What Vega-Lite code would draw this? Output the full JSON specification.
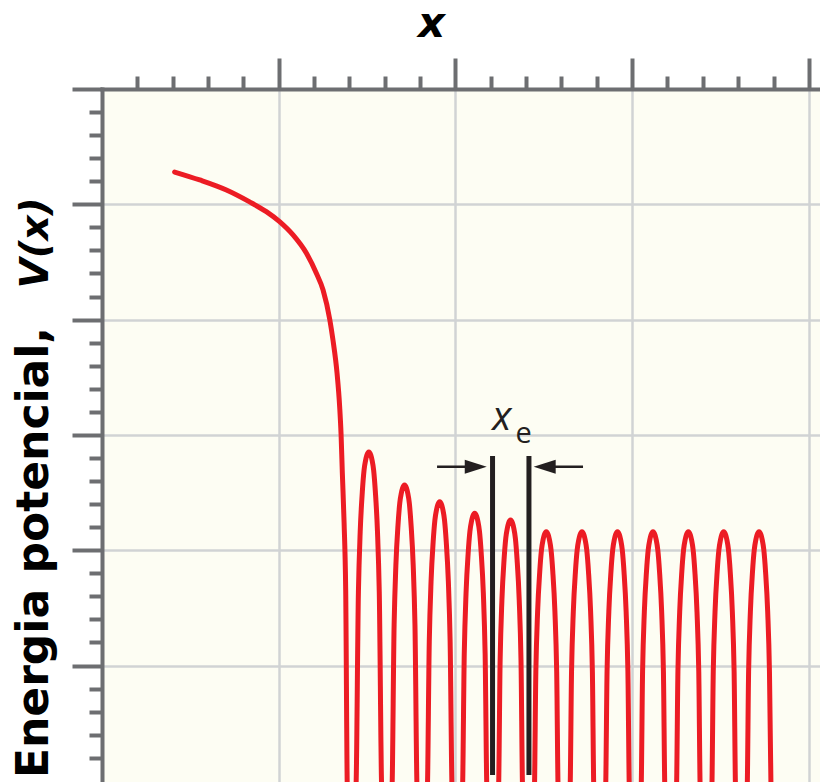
{
"$schema":"https://vega.github.io/schema/vega-lite/v6.json",
"width":718,"height":693,
"autosize":{"type":"none"},
"padding":{"left":102,"top":89,"right":0,"bottom":0},
"background":"#ffffff",
"config":{"view":{"fill":"#fdfdf3","stroke":null}},
"datasets":{
"curve":[
{"x":0.411,"y":5.280},{"x":0.553,"y":5.211},{"x":0.704,"y":5.124},{"x":0.833,"y":5.023},{"x":0.930,"y":4.936},{"x":1.005,"y":4.849},{"x":1.081,"y":4.734},{"x":1.157,"y":4.575},{"x":1.213,"y":4.402},{"x":1.251,"y":4.257},{"x":1.289,"y":4.000},{"x":1.307,"y":3.823},{"x":1.330,"y":3.537},{"x":1.345,"y":3.242},{"x":1.353,"y":2.999},{"x":1.360,"y":2.669},{"x":1.370,"y":2.236},{"x":1.379,"y":1.655},{"x":1.389,"y":-0.1},
{"x":1.436,"y":-0.1},{"x":1.451,"y":1.638},{"x":1.461,"y":2.158},{"x":1.473,"y":2.505},{"x":1.483,"y":2.696},{"x":1.492,"y":2.783},{"x":1.499,"y":2.826},{"x":1.510,"y":2.852},{"x":1.521,"y":2.826},{"x":1.528,"y":2.783},{"x":1.537,"y":2.696},{"x":1.547,"y":2.505},{"x":1.559,"y":2.158},{"x":1.569,"y":1.638},{"x":1.584,"y":-0.1},
{"x":1.640,"y":-0.1},{"x":1.653,"y":1.351},{"x":1.663,"y":1.871},{"x":1.675,"y":2.218},{"x":1.685,"y":2.409},{"x":1.694,"y":2.496},{"x":1.701,"y":2.539},{"x":1.712,"y":2.565},{"x":1.723,"y":2.539},{"x":1.730,"y":2.496},{"x":1.739,"y":2.409},{"x":1.749,"y":2.218},{"x":1.761,"y":1.871},{"x":1.771,"y":1.351},{"x":1.784,"y":-0.1},
{"x":1.840,"y":-0.1},{"x":1.852,"y":1.207},{"x":1.862,"y":1.727},{"x":1.874,"y":2.074},{"x":1.884,"y":2.265},{"x":1.893,"y":2.352},{"x":1.900,"y":2.395},{"x":1.911,"y":2.421},{"x":1.922,"y":2.395},{"x":1.929,"y":2.352},{"x":1.938,"y":2.265},{"x":1.948,"y":2.074},{"x":1.960,"y":1.727},{"x":1.970,"y":1.207},{"x":1.982,"y":-0.1},
{"x":2.039,"y":-0.1},{"x":2.050,"y":1.106},{"x":2.060,"y":1.626},{"x":2.072,"y":1.973},{"x":2.082,"y":2.164},{"x":2.091,"y":2.251},{"x":2.098,"y":2.294},{"x":2.109,"y":2.320},{"x":2.120,"y":2.294},{"x":2.127,"y":2.251},{"x":2.136,"y":2.164},{"x":2.146,"y":1.973},{"x":2.158,"y":1.626},{"x":2.168,"y":1.106},{"x":2.179,"y":-0.1},
{"x":2.243,"y":-0.1},{"x":2.253,"y":1.048},{"x":2.263,"y":1.568},{"x":2.275,"y":1.915},{"x":2.285,"y":2.106},{"x":2.294,"y":2.193},{"x":2.301,"y":2.236},{"x":2.312,"y":2.262},{"x":2.323,"y":2.236},{"x":2.330,"y":2.193},{"x":2.339,"y":2.106},{"x":2.349,"y":1.915},{"x":2.361,"y":1.568},{"x":2.371,"y":1.048},{"x":2.381,"y":-0.1},
{"x":2.446,"y":-0.1},{"x":2.455,"y":0.946},{"x":2.465,"y":1.466},{"x":2.477,"y":1.813},{"x":2.487,"y":2.004},{"x":2.496,"y":2.091},{"x":2.503,"y":2.134},{"x":2.514,"y":2.160},{"x":2.525,"y":2.134},{"x":2.532,"y":2.091},{"x":2.541,"y":2.004},{"x":2.551,"y":1.813},{"x":2.563,"y":1.466},{"x":2.573,"y":0.946},{"x":2.582,"y":-0.1},
{"x":2.648,"y":-0.1},{"x":2.657,"y":0.946},{"x":2.667,"y":1.466},{"x":2.679,"y":1.813},{"x":2.689,"y":2.004},{"x":2.698,"y":2.091},{"x":2.705,"y":2.134},{"x":2.716,"y":2.160},{"x":2.727,"y":2.134},{"x":2.734,"y":2.091},{"x":2.743,"y":2.004},{"x":2.753,"y":1.813},{"x":2.765,"y":1.466},{"x":2.775,"y":0.946},{"x":2.784,"y":-0.1},
{"x":2.849,"y":-0.1},{"x":2.858,"y":0.946},{"x":2.868,"y":1.466},{"x":2.880,"y":1.813},{"x":2.890,"y":2.004},{"x":2.899,"y":2.091},{"x":2.906,"y":2.134},{"x":2.917,"y":2.160},{"x":2.928,"y":2.134},{"x":2.935,"y":2.091},{"x":2.944,"y":2.004},{"x":2.954,"y":1.813},{"x":2.966,"y":1.466},{"x":2.976,"y":0.946},{"x":2.985,"y":-0.1},
{"x":3.050,"y":-0.1},{"x":3.059,"y":0.946},{"x":3.069,"y":1.466},{"x":3.081,"y":1.813},{"x":3.091,"y":2.004},{"x":3.100,"y":2.091},{"x":3.107,"y":2.134},{"x":3.118,"y":2.160},{"x":3.129,"y":2.134},{"x":3.136,"y":2.091},{"x":3.145,"y":2.004},{"x":3.155,"y":1.813},{"x":3.167,"y":1.466},{"x":3.177,"y":0.946},{"x":3.186,"y":-0.1},
{"x":3.250,"y":-0.1},{"x":3.259,"y":0.946},{"x":3.269,"y":1.466},{"x":3.281,"y":1.813},{"x":3.291,"y":2.004},{"x":3.300,"y":2.091},{"x":3.307,"y":2.134},{"x":3.318,"y":2.160},{"x":3.329,"y":2.134},{"x":3.336,"y":2.091},{"x":3.345,"y":2.004},{"x":3.355,"y":1.813},{"x":3.367,"y":1.466},{"x":3.377,"y":0.946},{"x":3.386,"y":-0.1},
{"x":3.450,"y":-0.1},{"x":3.459,"y":0.946},{"x":3.469,"y":1.466},{"x":3.481,"y":1.813},{"x":3.491,"y":2.004},{"x":3.500,"y":2.091},{"x":3.507,"y":2.134},{"x":3.518,"y":2.160},{"x":3.529,"y":2.134},{"x":3.536,"y":2.091},{"x":3.545,"y":2.004},{"x":3.555,"y":1.813},{"x":3.567,"y":1.466},{"x":3.577,"y":0.946},{"x":3.586,"y":-0.1},
{"x":3.650,"y":-0.1},{"x":3.659,"y":0.946},{"x":3.669,"y":1.466},{"x":3.681,"y":1.813},{"x":3.691,"y":2.004},{"x":3.700,"y":2.091},{"x":3.707,"y":2.134},{"x":3.718,"y":2.160},{"x":3.729,"y":2.134},{"x":3.736,"y":2.091},{"x":3.745,"y":2.004},{"x":3.755,"y":1.813},{"x":3.767,"y":1.466},{"x":3.777,"y":0.946},{"x":3.786,"y":-0.1}
],
"xe":[{"x":2.210,"y":2.817,"y2":0.05},{"x":2.416,"y":2.817,"y2":0.05}],
"shafts":[{"x":1.896,"x2":2.115,"y":2.724},{"x":2.722,"x2":2.505,"y":2.724}],
"heads":[{"x":2.115,"y":2.724,"dir":"right"},{"x":2.505,"y":2.724,"dir":"left"}],
"labx":[{"t":"x","x":2.262,"y":3.043}],
"labe":[{"t":"e","x":2.386,"y":2.930}]
},
"resolve":{"scale":{"y":"independent"}},
"layer":[
{
"encoding":{
"x":{"field":"x","type":"quantitative","scale":{"domain":[0,4.063],"nice":false,"zero":false},
"axis":{"orient":"top","values":[0.2,0.4,0.6,0.8,1,1.2,1.4,1.6,1.8,2,2.2,2.4,2.6,2.8,3,3.2,3.4,3.6,3.8,4],
"labels":false,"domainColor":"#6d6e71","domainWidth":4,"domainCap":"square","tickColor":"#6d6e71","tickWidth":4,
"tickSize":{"condition":{"test":"abs(datum.value - round(datum.value)) < 0.01","value":31},"value":13},
"grid":true,"gridColor":"#d1d3d4","gridWidth":2.5,
"gridOpacity":{"condition":{"test":"abs(datum.value - round(datum.value)) < 0.01","value":1},"value":0},
"title":"x","titleFont":"DejaVu Sans","titleFontSize":42,"titleFontWeight":"bold","titleFontStyle":"italic","titleColor":"#000000",
"titleX":329,"titleY":-53,"titleAlign":"center","titleBaseline":"alphabetic","titleAngle":0}},
"y":{"field":"y","type":"quantitative","scale":{"domain":[-0.01,6],"nice":false,"zero":false},
"axis":{"orient":"left","values":[0.2,0.4,0.6,0.8,1,1.2,1.4,1.6,1.8,2,2.2,2.4,2.6,2.8,3,3.2,3.4,3.6,3.8,4,4.2,4.4,4.6,4.8,5,5.2,5.4,5.6,5.8,6],
"labels":false,"domainColor":"#6d6e71","domainWidth":4,"domainCap":"square","tickColor":"#6d6e71","tickWidth":4,
"tickSize":{"condition":{"test":"abs(datum.value - round(datum.value)) < 0.01","value":30},"value":13},
"grid":true,"gridColor":"#d1d3d4","gridWidth":2.5,
"gridOpacity":{"condition":{"test":"abs(datum.value - round(datum.value)) < 0.01","value":1},"value":0},
"title":"Energia potencial,","titleFont":"DejaVu Sans","titleFontSize":44,"titleFontWeight":"bold","titleColor":"#000000",
"titleX":-55,"titleY":463,"titleAlign":"center","titleBaseline":"alphabetic","titleAngle":-90}}
},
"layer":[
{"data":{"name":"curve"},
"mark":{"type":"line","color":"#ec1c24","strokeWidth":5,"interpolate":"monotone","clip":true,"strokeCap":"round","strokeJoin":"round"}},
{"data":{"name":"xe"},
"mark":{"type":"rule","color":"#231f20","strokeWidth":5},
"encoding":{"y2":{"field":"y2"}}},
{"data":{"name":"shafts"},
"mark":{"type":"rule","color":"#231f20","strokeWidth":2.5},
"encoding":{"x2":{"field":"x2"}}},
{"data":{"name":"heads"},
"mark":{"type":"point","filled":true,"color":"#231f20","opacity":1,"size":484,"strokeWidth":0},
"encoding":{
"shape":{"field":"dir","type":"nominal","scale":{"domain":["right","left"],"range":["M-1,-0.64L1,0L-1,0.64Z","M1,-0.64L-1,0L1,0.64Z"]},"legend":null}}},
{"data":{"name":"labx"},
"mark":{"type":"text","font":"Open Sans","fontSize":40,"fontStyle":"italic","color":"#231f20","align":"center","baseline":"alphabetic"},
"encoding":{"text":{"field":"t"}}},
{"data":{"name":"labe"},
"mark":{"type":"text","font":"Open Sans","fontSize":29,"color":"#231f20","align":"center","baseline":"alphabetic"},
"encoding":{"text":{"field":"t"}}}
]},
{"data":{"name":"xe"},
"mark":{"type":"point","opacity":0},
"encoding":{
"y":{"field":"y","type":"quantitative","scale":{"domain":[-0.01,6],"nice":false,"zero":false},
"axis":{"orient":"left","offset":0,"domain":false,"ticks":false,"labels":false,"grid":false,
"title":"V(x)","titleFont":"DejaVu Sans","titleFontSize":39,"titleFontWeight":"bold","titleFontStyle":"italic","titleColor":"#000000",
"titleX":-55,"titleY":153.5,"titleAlign":"center","titleBaseline":"alphabetic","titleAngle":-90}}}}
]
}
